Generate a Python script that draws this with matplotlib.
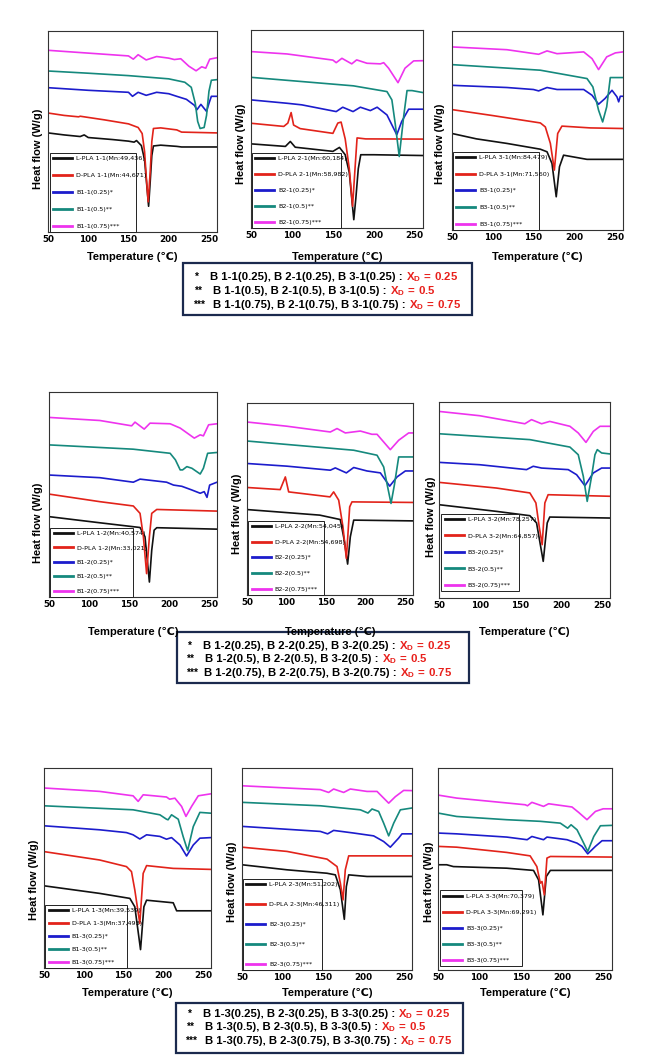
import matplotlib.pyplot as plt
from matplotlib.patches import Rectangle

plt.rcParams['font.family'] = ['Liberation Sans', 'DejaVu Sans']
plt.rcParams['mathtext.fontset'] = 'custom'
plt.rcParams['mathtext.rm'] = 'Liberation Sans'
plt.rcParams['mathtext.bf'] = 'Liberation Sans:bold'

# sample codes and molecular weights read from the legends
codes = ['1-1', '2-1', '3-1', '1-2', '2-2', '3-2', '1-3', '2-3', '3-3']
mn_L = ['49,436', '60,184', '84,479', '40,574', '54,045', '78,257', '39,539', '51,202', '70,379']
mn_D = ['44,671', '58,982', '71,560', '33,021', '54,698', '64,857', '37,493', '46,311', '69,291']
ratios = ['0.25', '0.5', '0.75']

# DSC curves: (temperature degC, heat flow in relative units 0-100 of the axis height)
# panel 1-1
L11 = [(50,49.3),(70,48.3),(90,47.5),(95,48.3),(100,47.0),(130,46.0),(150,45.2),(157,44.7),(160,45.5),(166,43.0),(170,36.0),(173,22.0),(175,12.8),(177,25.0),(179,38.0),(181,42.8),(190,43.2),(210,42.6),(216,42.3),(260,42.3)]
D11 = [(50,59.2),(70,58.0),(88,57.3),(90,57.6),(120,55.8),(150,53.8),(162,52.0),(167,49.0),(170,40.0),(172,28.0),(174.5,15.0),(177,30.0),(179,45.0),(181,51.5),(190,51.8),(210,50.8),(216,49.7),(260,49.3)]
B11_25 = [(50,71.8),(100,70.5),(150,69.5),(155,67.5),(162,69.5),(172,68.0),(185,69.5),(200,68.8),(210,67.5),(222,66.0),(232,63.0),(235,60.8),(240,63.5),(245,61.0),(247,60.0),(250,64.0),(253,67.5),(260,67.5)]
B11_50 = [(50,80.1),(100,79.0),(150,77.8),(200,76.2),(220,74.5),(228,72.0),(233,64.0),(236,55.0),(239,51.5),(244,52.0),(247,58.0),(250,70.0),(253,75.5),(260,75.8)]
B11_75 = [(50,90.4),(100,89.0),(150,87.6),(156,86.0),(162,88.2),(172,85.6),(185,87.3),(200,86.5),(207,85.8),(215,86.2),(225,82.5),(234,80.2),(241,82.2),(246,81.5),(251,86.0),(260,86.7)]
# panel 2-1
L21 = [(50,42.5),(92,41.2),(98,43.7),(104,40.8),(150,38.7),(158,40.7),(165,37.0),(170,28.0),(173,15.0),(175.5,4.2),(178,15.0),(181,30.0),(184,37.0),(200,37.0),(260,36.6)]
D21 = [(50,52.9),(90,51.3),(95,53.0),(99,58.3),(102,52.0),(110,50.2),(150,47.8),(156,53.0),(160,53.5),(165,45.0),(170,30.0),(174,11.0),(177,30.0),(179.5,45.5),(190,45.0),(260,44.9)]
B21_25 = [(50,64.7),(94,63.0),(112,62.2),(154,58.8),(162,61.0),(174.6,58.8),(183.5,61.0),(195.7,59.3),(204,61.0),(216,57.1),(228,47.1),(234,53.8),(242.5,60.0),(260,60.0)]
B21_50 = [(50,76.1),(175,71.8),(216,68.9),(222,64.7),(226,52.9),(231,36.1),(236.4,56.3),(240.5,69.4),(246.6,69.4),(260,68.4)]
B21_75 = [(50,89.1),(94,87.9),(150,84.8),(154,83.5),(161,85.7),(173,82.9),(179,84.9),(191.6,83.2),(208,82.9),(212,83.5),(218,80.7),(229.5,73.4),(238,80.7),(248.6,84.4),(260,84.5)]
# panel 3-1
L31 = [(50,48.5),(80,45.8),(117.5,43.5),(158.5,40.6),(166.7,39.3),(172.8,33.4),(178,16.7),(182,31.8),(187,37.6),(215.8,35.5),(260,35.5)]
D31 = [(50,60.5),(100,57.5),(158.5,53.8),(164.6,51.8),(170.8,43.5),(175.7,30.1),(179.8,48.5),(185,52.2),(220,51.3),(260,51.0)]
B31_25 = [(50,72.7),(117.5,71.6),(150,70.6),(156.4,69.9),(166.7,71.6),(179,70.6),(211.7,70.6),(222,67.7),(230,63.2),(238,66.1),(246.5,70.2),(252.6,66.9),(254.7,64.4),(256.7,67.2),(260,67.2)]
B31_50 = [(50,83.1),(158.5,80.3),(215.8,76.1),(223,71.9),(230,60.2),(235,54.3),(240,61.9),(244.4,76.6),(260,76.6)]
B31_75 = [(50,92.0),(117.5,90.6),(156.4,88.3),(166.7,90.0),(179,88.6),(211.7,89.5),(222,86.1),(230,80.6),(240,87.0),(250.6,89.0),(260,89.5)]
# panel 1-2
L12 = [(50,39.2),(113.6,36.2),(163.8,33.9),(170,29.4),(175.5,7.3),(178.4,22.8),(181.4,32.6),(184.7,33.8),(260,33.1)]
D12 = [(50,50.2),(113.6,46.5),(155.4,44.4),(163.8,40.8),(168,29.4),(172,11.4),(175.5,29.4),(178.4,40.8),(184.7,42.7),(260,41.9)]
B12_25 = [(50,59.5),(113.6,58.2),(155.4,56.0),(163.8,57.5),(197,56.0),(205.6,54.6),(216,54.0),(228.6,52.2),(239,50.6),(244,51.4),(247.5,48.6),(250.8,54.6),(260,56.0)]
B12_50 = [(50,74.2),(155.4,72.1),(201.4,70.1),(208,66.9),(214,62.0),(217,62.0),(222.3,63.6),(228.6,62.8),(239,60.0),(243,62.8),(248.3,70.1),(260,70.5)]
B12_75 = [(50,87.6),(113.6,86.1),(153.3,83.5),(157.5,85.3),(169,81.9),(176.3,84.8),(201.4,84.5),(214,82.4),(231.6,77.5),(239,79.1),(243,78.6),(249.5,84.0),(260,84.5)]
# panel 2-2
L22 = [(50,44.5),(142,41.6),(168,39.3),(173,28.6),(177.3,16.1),(180.7,30.3),(185,39.0),(260,38.6)]
D22 = [(50,56.0),(92,54.9),(98.5,61.5),(102.7,53.7),(155,51.1),(159.6,53.7),(166,49.4),(171.4,35.5),(175.7,19.0),(179.9,45.9),(182.8,48.5),(260,48.2)]
B22_25 = [(50,68.5),(100.6,67.1),(155.4,65.0),(161.7,66.2),(175.7,63.6),(185,66.4),(201.8,64.6),(218.7,63.6),(230.5,56.7),(239.8,61.5),(250.3,64.6),(260,64.6)]
B22_50 = [(50,80.2),(185,75.4),(214.5,72.8),(222.9,66.7),(227,58.1),(232.2,47.7),(236.4,57.2),(241.9,71.9),(260,71.9)]
B22_75 = [(50,90.1),(100.6,87.9),(155.4,84.9),(163.9,86.7),(174.4,84.4),(193.4,85.4),(208,83.7),(214.5,83.7),(222.9,79.7),(231.3,75.7),(241.9,80.6),(254.5,84.4),(260,84.4)]
# panel 3-2
L32 = [(50,47.6),(120.5,44.2),(161.6,42.0),(169.8,38.3),(178,18.7),(182.9,38.3),(186,41.3),(260,40.8)]
D32 = [(50,59.0),(120.5,56.1),(161.6,53.6),(169,48.5),(173,36.6),(176.7,27.2),(180,48.5),(184,52.7),(260,51.9)]
B32_25 = [(50,69.2),(100,68.0),(157.5,65.5),(165.7,67.2),(176,66.3),(208.7,65.5),(219,62.9),(229.2,57.3),(239.5,63.8),(249.7,66.3),(260,66.3)]
B32_50 = [(50,83.8),(161.6,80.8),(210.8,77.0),(221,73.1),(227.2,62.1),(232,49.3),(237.4,62.1),(241.5,73.1),(244.4,75.7),(249.7,74.0),(260,73.5)]
B32_75 = [(50,95.2),(100,93.0),(155.4,88.9),(163.6,91.0),(176,88.9),(186,90.1),(210.8,87.6),(221,84.2),(230.5,79.4),(239.5,85.0),(247.7,87.6),(260,87.6)]
# panel 1-3
L13 = [(50,41.1),(120,37.3),(158,34.8),(164.2,30.6),(171.4,9.2),(175.6,30.6),(179,33.9),(212.5,32.6),(216.8,28.6),(260,28.6)]
D13 = [(50,58.2),(120,54.0),(153.7,50.7),(160,48.2),(164.2,39.0),(170.5,22.2),(174.7,47.3),(179,51.2),(212.5,49.8),(260,49.3)]
B13_25 = [(50,71.1),(120,69.1),(153.7,67.7),(162,66.6),(170.5,64.5),(179,66.6),(195.7,65.8),(204,64.4),(210.4,65.2),(221,61.5),(229.3,56.0),(237.7,61.5),(246,64.9),(260,65.2)]
B13_50 = [(50,81.1),(162,79.1),(195.7,76.6),(204,74.4),(206,74.1),(210.4,76.6),(218.8,74.4),(225,65.7),(230.6,58.7),(237.7,70.7),(246,77.8),(260,77.4)]
B13_75 = [(50,90.0),(120,88.3),(162,86.1),(168.4,83.3),(174.7,86.6),(204,85.5),(208,84.4),(214.6,84.9),(223,80.8),(228.5,75.8),(235.6,80.8),(244,86.1),(260,87.1)]
# panel 2-3
L23 = [(50,52.1),(105.6,49.6),(155,47.9),(165.3,47.1),(171.5,39.7),(176.4,25.1),(178.9,41.3),(181.8,47.1),(204.4,46.3),(260,46.3)]
D23 = [(50,60.8),(105.6,58.7),(155,54.9),(167.4,51.2),(171.5,43.0),(174.8,34.7),(177.6,49.6),(181.8,56.5),(260,56.5)]
B23_25 = [(50,71.1),(146.8,68.6),(155.8,67.4),(163.2,69.1),(188,67.8),(212.6,66.4),(225,63.6),(233.2,60.8),(243.5,65.3),(247.6,67.4),(260,67.4)]
B23_50 = [(50,83.0),(146.8,81.3),(196.2,79.3),(205.6,77.7),(210.6,79.7),(218.8,78.5),(225,72.7),(231.2,66.4),(237.4,72.7),(245.6,79.3),(260,80.2)]
B23_75 = [(50,91.2),(105.6,90.1),(146.8,89.3),(157,87.9),(163.2,89.6),(175.6,87.9),(183.8,89.6),(204.4,88.4),(216.8,88.4),(225,85.1),(231.2,82.6),(239.4,85.8),(249.7,88.9),(260,88.8)]
# panel 3-3
L33 = [(50,52.1),(60.5,52.1),(68.6,51.2),(133,50.4),(165.3,49.3),(171.4,44.6),(176.6,27.3),(180.7,46.3),(185.6,49.3),(260,49.3)]
D33 = [(50,61.2),(72.6,60.8),(133,58.2),(161.2,56.5),(169.3,51.2),(173.5,43.0),(175.5,43.8),(178.3,37.2),(181.5,55.4),(185.6,56.2),(260,55.9)]
B33_25 = [(50,67.8),(72.6,67.4),(133,65.8),(157.6,64.5),(163.3,66.1),(177.4,64.5),(181.5,65.8),(205.7,64.5),(217.8,62.8),(223.8,61.2),(230.7,57.5),(240,61.2),(248,64.0),(260,64.0)]
B33_50 = [(50,77.7),(72.6,76.0),(133,74.4),(173.5,73.6),(197.6,72.7),(206.5,70.2),(210.6,71.9),(217.8,69.4),(223.8,64.5),(230.7,58.7),(238,66.1),(246,71.4),(260,71.6)]
B33_75 = [(50,86.6),(72.6,85.1),(112.9,83.5),(155.3,81.8),(158,81.3),(163.3,83.0),(177.4,81.0),(183.5,82.3),(211.7,80.7),(219.8,78.0),(229.8,74.4),(240,78.5),(249.3,79.8),(260,79.8)]

curves = [
    [L11, D11, B11_25, B11_50, B11_75],
    [L21, D21, B21_25, B21_50, B21_75],
    [L31, D31, B31_25, B31_50, B31_75],
    [L12, D12, B12_25, B12_50, B12_75],
    [L22, D22, B22_25, B22_50, B22_75],
    [L32, D32, B32_25, B32_50, B32_75],
    [L13, D13, B13_25, B13_50, B13_75],
    [L23, D23, B23_25, B23_50, B23_75],
    [L33, D33, B33_25, B33_50, B33_75],
]

colors = ['#111111', '#e2231a', '#1c1ccc', '#15897d', '#ee33ee']

# layout in pixels of the 668x1060 picture
W, H = 668, 1060
ax_px = [(48,31,217,232), (251,30,423,228), (452,31,623,230),
         (49,392,217,597), (247,403,413,595), (439,402,610,598),
         (44,768,211,968), (242,768,412,970), (438,768,612,970)]
# legend box: x0, y0, width (axes fraction), height (px)
leg_box = [(0.01,0.0,0.51,78), (0.006,0.0,0.52,74), (0.006,0.0,0.50,77),
           (0.008,0.0,0.494,68), (0.008,0.0,0.458,73), (0.014,0.035,0.455,76),
           (0.008,0.0,0.49,62), (0.006,0.0,0.464,90), (0.011,0.02,0.472,74)]
xlab_y = [257, 257, 257, 632, 632, 632, 993, 993, 993]
ylab_xy = [(38,149), (241,144), (440,144), (38,523), (237,514), (431,517),
           (34,880), (232,882), (429,882)]

narrow = ['Liberation Sans Narrow', 'DejaVu Sans']
leg_fs = 4.6

fig = plt.figure(figsize=(W/100, H/100), dpi=100)
bg = fig.add_axes([0, 0, 1, 1])
bg.set_xlim(0, W)
bg.set_ylim(H, 0)
bg.axis('off')

for i, code in enumerate(codes):
    x0, y0, x1, y1 = ax_px[i]
    ax = fig.add_axes([x0/W, 1 - y1/H, (x1-x0)/W, (y1-y0)/H])
    labels = [f'L-PLA {code}(Mn:{mn_L[i]})', f'D-PLA {code}(Mn:{mn_D[i]})',
              f'B{code}(0.25)*', f'B{code}(0.5)**', f'B{code}(0.75)***']
    for pts, c, lab in zip(curves[i], colors, labels):
        t = [p[0] for p in pts]
        v = [p[1] for p in pts]
        ax.plot(t, v, color=c, lw=1.2, label=lab)
    ax.set_xlim(50, 260)
    ax.set_ylim(0, 100)
    ax.set_yticks([])
    ax.set_xticks([50, 100, 150, 200, 250])
    ax.tick_params(axis='x', length=0, pad=2.5)
    for tl in ax.get_xticklabels():
        tl.set_fontsize(6.3)
        tl.set_fontweight('bold')
        tl.set_family(narrow)
    for s in ax.spines.values():
        s.set_linewidth(0.8)
        s.set_color('#333333')

    lx, ly, lw_, lh = leg_box[i]
    fs_px = leg_fs * 100 / 72
    spacing = (lh - 2*0.5*fs_px - 5*fs_px*0.81) / (4*fs_px)
    handles, hl = ax.get_legend_handles_labels()
    leg = ax.legend(handles, hl, loc='lower left', bbox_to_anchor=(lx, ly, lw_, 0.3),
                    mode='expand', borderaxespad=0, fancybox=False, framealpha=1,
                    edgecolor='#222222', prop={'family': narrow, 'size': leg_fs},
                    handlelength=3.0, handletextpad=0.6, labelspacing=spacing,
                    borderpad=0.5)
    leg.get_frame().set_linewidth(0.7)
    for ln in leg.get_lines():
        ln.set_linewidth(2.0)

    bg.text((x0+x1)/2, xlab_y[i], 'Temperature (\u2103)', ha='center', va='center',
            fontsize=8, fontweight='bold')
    bg.text(ylab_xy[i][0], ylab_xy[i][1], 'Heat flow (W/g)', ha='center', va='center',
            rotation=90, fontsize=8, fontweight='bold')

# caption boxes under each row
cap_box = [(183,263,472,315), (177,632,469,683), (176,1003,463,1053)]
cap_y = [(280,294,308), (649,662,676), (1017,1030,1044)]
star_x = [(195,195,194), (188,187,187), (188,187,186)]
text_x = [(210,213,213), (203,205,204), (203,205,205)]
stars = ['*', '**', '***']
cap_fs = 8.2

renderer = fig.canvas.get_renderer()
for r in range(3):
    bx0, by0, bx1, by1 = cap_box[r]
    bg.add_patch(Rectangle((bx0, by0), bx1-bx0, by1-by0, fill=False,
                           edgecolor='#1b2a4e', lw=1.6))
    for k, x in enumerate(ratios):
        y = cap_y[r][k]
        bg.text(star_x[r][k], y, stars[k], ha='left', va='baseline',
                fontsize=cap_fs - 1, fontweight='bold')
        txt = f'B 1-{r+1}({x}), B 2-{r+1}({x}), B 3-{r+1}({x}) : '
        t = bg.text(text_x[r][k], y, txt, ha='left', va='baseline',
                    fontsize=cap_fs, fontweight='bold')
        bb = t.get_window_extent(renderer)
        xe = bg.transData.inverted().transform((bb.x1, bb.y0))[0]
        red = '$\\mathbf{X_D\\,=\\,' + x + '}$'
        bg.text(xe, y, red, ha='left', va='baseline',
                fontsize=cap_fs, color='#e8201c')

fig.savefig('out.png', dpi=100)
